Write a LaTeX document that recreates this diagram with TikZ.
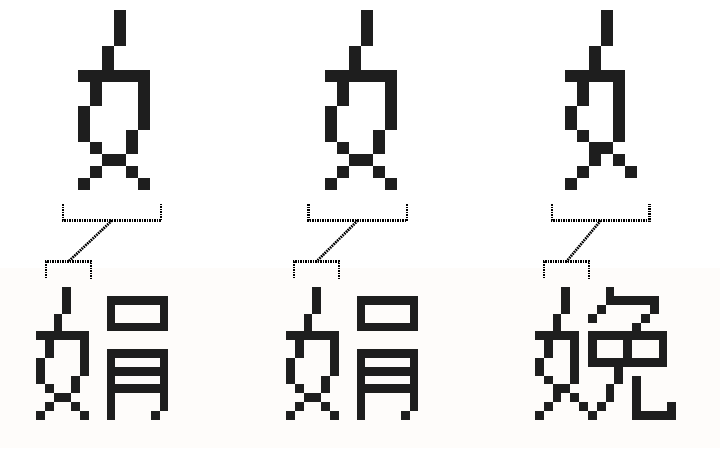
\documentclass[tikz,border=0pt]{standalone}
\usepackage{tikz}
\usepackage{xcolor}

\definecolor{ink}{RGB}{30,30,30}
\definecolor{paper}{RGB}{254,252,250}

% pixel glyphs: col1/row1/col2/row2 runs (inclusive)
\newcommand{\nvA}{3/0/3/2, 2/3/2/4, 0/5/5/5, 1/6/1/7, 5/6/5/9, 0/8/0/10, 4/10/4/11, 1/11/1/11, 2/12/3/12, 1/13/1/13, 4/13/4/13, 0/14/0/14, 5/14/5/14}
\newcommand{\nvB}{3/0/3/2, 2/3/2/4, 0/5/4/5, 1/6/1/7, 4/6/4/10, 0/8/0/9, 1/10/1/10, 2/11/3/11, 2/12/2/12, 4/12/4/12, 1/13/1/13, 5/13/5/13, 0/14/0/14}
\newcommand{\juanR}{8/1/14/1, 8/2/8/3, 14/2/14/3, 8/4/14/4, 8/7/14/7, 8/8/8/14, 14/8/14/13, 9/9/13/9, 9/11/13/11, 13/14/13/14}
\newcommand{\wanR}{8/0/8/0, 8/1/13/1, 7/2/7/2, 13/2/13/2, 6/3/6/3, 12/3/12/3, 11/4/11/4, 6/5/14/5, 6/6/6/7, 10/6/10/7, 14/6/14/7, 6/8/14/8, 9/9/9/10, 8/11/8/12, 7/13/7/13, 6/14/6/14, 11/10/11/14, 12/14/15/14, 15/13/15/13}

\newcommand{\glyph}[4]{%
  \foreach \ca/\ra/\cb/\rb in #4
    \fill[ink] ({#1+\ca*#3},{#2+\ra*#3}) rectangle ({#1+(\cb+1)*#3},{#2+(\rb+1)*#3});
}

\begin{document}
\begin{tikzpicture}[x=1pt, y=-1pt,
    dots/.style={draw=black, line width=2.6pt, dash pattern=on 1.5pt off 1pt}
  ]
  \useasboundingbox (0,0) rectangle (720,448);
  \fill[paper] (0,268) rectangle (720,448);

  % upper row
  \glyph{78}{9.5}{12}{\nvA}
  \glyph{325}{9.5}{12}{\nvA}
  \glyph{565}{9.5}{12}{\nvB}

  % lower row
  \glyph{36}{287.3}{8.83}{\nvA}
  \glyph{36}{287.3}{8.83}{\juanR}
  \glyph{286}{287.3}{8.83}{\nvA}
  \glyph{286}{287.3}{8.83}{\juanR}
  \glyph{535}{287.3}{8.83}{\nvB}
  \glyph{535}{287.3}{8.83}{\wanR}

  % brackets
  \foreach \n/\L/\R/\l/\r in {a/63/161/46/91, b/308.5/407/294/339, c/552/649.5/544/589}{
    \coordinate (\n-ul) at (\L,204);
    \coordinate (\n-ur) at (\R,204);
    \coordinate (\n-um) at ({(\L+\R)/2},220.5);
    \coordinate (\n-ll) at (\l,278);
    \coordinate (\n-lr) at (\r,278);
    \coordinate (\n-lm) at ({(\l+\r)/2},261.5);
    \draw[dots] (\n-ul) -- ++(0,16.5) -| (\n-ur);
    \draw[dots] (\n-ll) -- ++(0,-16.5) -| (\n-lr);
    \draw[dots] (\n-um) -- (\n-lm);
  }
\end{tikzpicture}
\end{document}
